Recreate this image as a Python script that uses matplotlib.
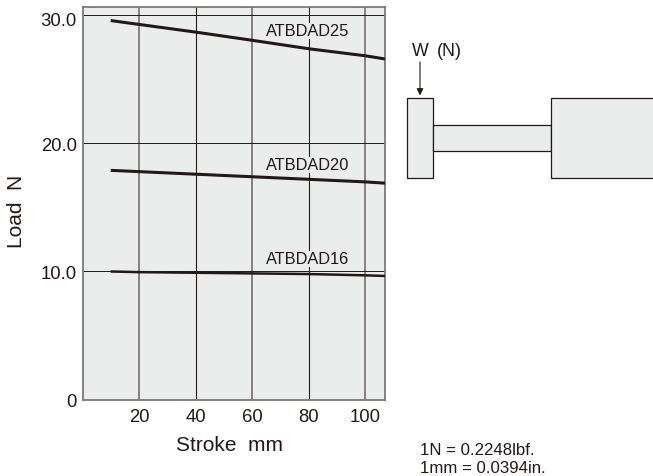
import numpy as np
import matplotlib
matplotlib.use("Agg")
import matplotlib.pyplot as plt
from matplotlib.patches import Rectangle
from matplotlib.transforms import ScaledTranslation

# Load vs stroke
stroke = [10, 20, 40, 60, 80, 100, 107]
load_25 = [29.6, 29.3, 28.7, 28.06, 27.4, 26.85, 26.6]
load_20 = [17.9, 17.8, 17.6, 17.4, 17.2, 17.0, 16.9]
load_16 = [10.0, 9.95, 9.9, 9.85, 9.8, 9.7, 9.65]

x_ticks = [20, 40, 60, 80, 100]
y_ticks = [0, 10, 20, 30]
y_tick_labels = ["0", "10.0", "20.0", "30.0"]
thin_lines = [40, 80]
grey_lines = [20, 60, 100]

TEXT = "#231815"
GREY = "#7d7875"
FILL = "#ebeded"
W, H = 653, 477

plt.rcParams['font.family'] = ['Liberation Sans', 'DejaVu Sans']

fig = plt.figure(figsize=(W/100, H/100), dpi=100)

# main chart
ax = fig.add_axes([83/W, 1-400.5/H, (385-83)/W, (400.5-8)/H])
ax.set_facecolor(FILL)
ax.set_xlim(0.2, 107)
ax.set_ylim(0, 30.66)

for x in grey_lines:
    ax.axvline(x, color=GREY, lw=1.3, zorder=1)
for x in thin_lines:
    ax.axvline(x, color=TEXT, lw=0.8, zorder=1)
for y in y_ticks[1:]:
    ax.axhline(y, color=TEXT, lw=0.7, zorder=1)

for vals in (load_25, load_20):
    ax.plot(stroke, vals, color=TEXT, lw=2.2, zorder=3, solid_capstyle='butt')
ax.plot(stroke, load_16, color=TEXT, lw=1.8, zorder=3, solid_capstyle='butt')

for y, name in [(28.8, "ATBDAD25"), (18.35, "ATBDAD20"), (10.98, "ATBDAD16")]:
    ax.text(79.5, y, name, fontsize=11.8, color=TEXT, ha='center', va='center',
            zorder=4, bbox=dict(facecolor=FILL, edgecolor='none', pad=0.4))

ax.set_xticks(x_ticks)
ax.set_yticks(y_ticks)
ax.set_yticklabels(y_tick_labels)
ax.tick_params(length=0, labelsize=13.3, labelcolor=TEXT, pad=4.5)
ax.tick_params(axis='x', pad=6)
# top label sits a little under its line
top = ax.get_yticklabels()[-1]
top.set_transform(top.get_transform() + ScaledTranslation(0, -3/100, fig.dpi_scale_trans))
for s in ax.spines.values():
    s.set_color(GREY)
    s.set_linewidth(1.3)

fig.text(230/W, 1-445.5/H, "Stroke  mm", fontsize=15, color=TEXT, ha='center', va='center')
fig.text(16/W, 1-211/H, "Load  N", fontsize=15, color=TEXT, rotation=90, ha='center', va='center')

# side diagram, pixel coordinates
dg = fig.add_axes([0, 0, 1, 1], facecolor='none')
dg.set_xlim(0, W)
dg.set_ylim(H, 0)
dg.axis('off')
for x0, y0, x1, y1 in [(407, 98.5, 433, 178.5), (433, 125.5, 551, 151.5), (551, 98.5, 660, 178.5)]:
    dg.add_patch(Rectangle((x0, y0), x1-x0, y1-y0, facecolor=FILL, edgecolor=TEXT, lw=0.9))
dg.annotate("", xy=(420, 96.5), xytext=(420, 63),
            arrowprops=dict(arrowstyle='-|>', color=TEXT, lw=0.8, mutation_scale=10, shrinkA=0, shrinkB=0))
dg.text(411.5, 51.5, "W", fontsize=12.8, color=TEXT, va='center')
dg.text(449, 51.5, "(N)", fontsize=12.8, color=TEXT, va='center', ha='center')

dg.text(420, 451, "1N = 0.2248lbf.", fontsize=12.1, color=TEXT, va='center')
dg.text(420, 469, "1mm = 0.0394in.", fontsize=12.1, color=TEXT, va='center')

fig.savefig("out.png", dpi=100)
